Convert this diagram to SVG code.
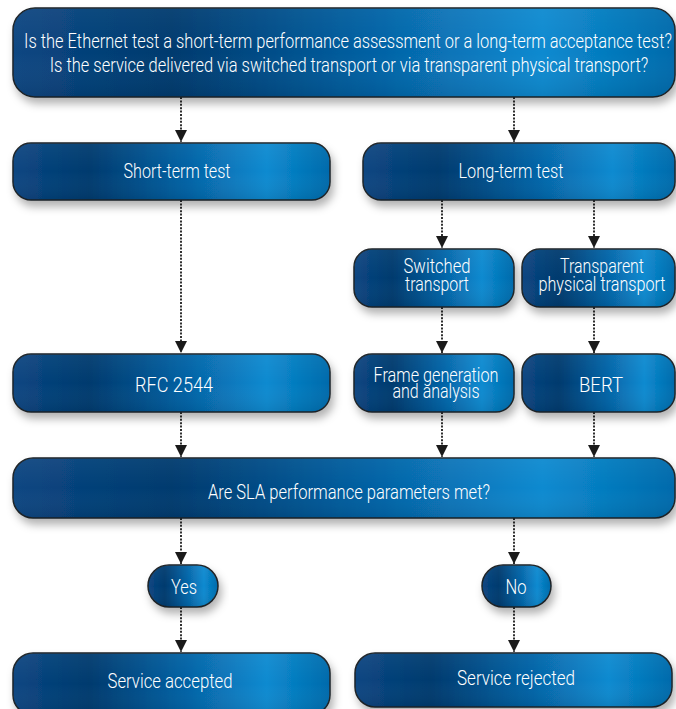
<svg xmlns="http://www.w3.org/2000/svg" width="676" height="709" viewBox="0 0 676 709">
<defs>
<linearGradient id="g" x1="0" y1="0" x2="1" y2="0">
<stop offset="0" stop-color="#0a4682"/>
<stop offset="0.24" stop-color="#003a6e"/>
<stop offset="0.55" stop-color="#0562a5"/>
<stop offset="0.8" stop-color="#0a8ad0"/>
<stop offset="1" stop-color="#006aab"/>
</linearGradient>
<linearGradient id="sh" x1="0" y1="0" x2="0" y2="1">
<stop offset="0" stop-color="#ffffff" stop-opacity="0.05"/>
<stop offset="0.5" stop-color="#ffffff" stop-opacity="0"/>
<stop offset="1" stop-color="#000000" stop-opacity="0.08"/>
</linearGradient>
<filter id="ds" x="-10%" y="-20%" width="125%" height="160%">
<feDropShadow dx="3" dy="6" stdDeviation="4" flood-color="#000" flood-opacity="0.3"/>
</filter>
<marker id="ah" viewBox="0 0 12 12" refX="12" refY="6" markerWidth="12" markerHeight="13" markerUnits="userSpaceOnUse" orient="auto">
<path d="M0,0 L12,6 L0,12 z" fill="#1a1a1a"/>
</marker>
</defs>
<style>
.box{fill:url(#g);stroke:#1e2428;stroke-width:1.5;filter:url(#ds)}
.hl{fill:url(#sh);stroke:none}
.t{font-family:Roboto,"Liberation Sans",Arial,sans-serif;font-weight:300;font-size:19.5px;fill:#ffffff;text-anchor:middle}
.c{fill:none;stroke:#1a1a1a;stroke-width:1.8;stroke-dasharray:2 1.4;marker-end:url(#ah)}
</style>
<rect width="676" height="709" fill="#ffffff"/>
<g id="connectors">
<line class="c" x1="181" y1="97" x2="181" y2="142"/>
<line class="c" x1="514" y1="97" x2="514" y2="142"/>
<line class="c" x1="442" y1="200" x2="442" y2="248"/>
<line class="c" x1="594" y1="200" x2="594" y2="248"/>
<line class="c" x1="181" y1="200" x2="181" y2="353"/>
<line class="c" x1="442" y1="307" x2="442" y2="353"/>
<line class="c" x1="594" y1="307" x2="594" y2="353"/>
<line class="c" x1="181" y1="412" x2="181" y2="457"/>
<line class="c" x1="442" y1="412" x2="442" y2="457"/>
<line class="c" x1="594" y1="412" x2="594" y2="457"/>
<line class="c" x1="181" y1="518" x2="181" y2="564"/>
<line class="c" x1="514" y1="518" x2="514" y2="564"/>
<line class="c" x1="181" y1="607" x2="181" y2="652"/>
<line class="c" x1="514" y1="607" x2="514" y2="652"/>
</g>
<g id="question">
<rect class="box" x="13" y="8" width="662" height="89" rx="22"/>
<rect class="hl" x="13" y="8" width="662" height="89" rx="22"/>
<text class="t" transform="translate(348,48) scale(0.82,1)" textLength="790" lengthAdjust="spacingAndGlyphs">Is the Ethernet test a short-term performance assessment or a long-term acceptance test?</text>
<text class="t" transform="translate(349,72) scale(0.82,1)" textLength="730" lengthAdjust="spacingAndGlyphs">Is the service delivered via switched transport or via transparent physical transport?</text>
</g>
<g id="short-term">
<rect class="box" x="13" y="143" width="317" height="57" rx="18"/>
<rect class="hl" x="13" y="143" width="317" height="57" rx="18"/>
<text class="t" transform="translate(177,178) scale(0.82,1)" textLength="130.5" lengthAdjust="spacingAndGlyphs">Short-term test</text>
</g>
<g id="long-term">
<rect class="box" x="363" y="143" width="312" height="57" rx="18"/>
<rect class="hl" x="363" y="143" width="312" height="57" rx="18"/>
<text class="t" transform="translate(511,178) scale(0.82,1)" textLength="128" lengthAdjust="spacingAndGlyphs">Long-term test</text>
</g>
<g id="switched">
<rect class="box" x="354" y="249" width="160" height="58" rx="18"/>
<rect class="hl" x="354" y="249" width="160" height="58" rx="18"/>
<text class="t" transform="translate(437,273) scale(0.82,1)" textLength="81.7" lengthAdjust="spacingAndGlyphs">Switched</text>
<text class="t" transform="translate(437,291) scale(0.82,1)" textLength="78" lengthAdjust="spacingAndGlyphs">transport</text>
</g>
<g id="transparent">
<rect class="box" x="522" y="249" width="153" height="58" rx="18"/>
<rect class="hl" x="522" y="249" width="153" height="58" rx="18"/>
<text class="t" transform="translate(602,273) scale(0.82,1)" textLength="102.4" lengthAdjust="spacingAndGlyphs">Transparent</text>
<text class="t" transform="translate(602,291) scale(0.82,1)" textLength="154.9" lengthAdjust="spacingAndGlyphs">physical transport</text>
</g>
<g id="rfc2544">
<rect class="box" x="13" y="354" width="317" height="58" rx="18"/>
<rect class="hl" x="13" y="354" width="317" height="58" rx="18"/>
<text class="t" transform="translate(174,392) scale(0.82,1)" textLength="95.1" lengthAdjust="spacingAndGlyphs">RFC 2544</text>
</g>
<g id="frame">
<rect class="box" x="354" y="354" width="160" height="58" rx="18"/>
<rect class="hl" x="354" y="354" width="160" height="58" rx="18"/>
<text class="t" transform="translate(436,382) scale(0.82,1)" textLength="152.4" lengthAdjust="spacingAndGlyphs">Frame generation</text>
<text class="t" transform="translate(436,398) scale(0.82,1)" textLength="106.1" lengthAdjust="spacingAndGlyphs">and analysis</text>
</g>
<g id="bert">
<rect class="box" x="522" y="354" width="153" height="58" rx="18"/>
<rect class="hl" x="522" y="354" width="153" height="58" rx="18"/>
<text class="t" transform="translate(601,392) scale(0.82,1)" textLength="53.7" lengthAdjust="spacingAndGlyphs">BERT</text>
</g>
<g id="sla">
<rect class="box" x="13" y="458" width="662" height="60" rx="20"/>
<rect class="hl" x="13" y="458" width="662" height="60" rx="20"/>
<text class="t" transform="translate(349,499) scale(0.82,1)" textLength="343.9" lengthAdjust="spacingAndGlyphs">Are SLA performance parameters met?</text>
</g>
<g id="yes">
<rect class="box" x="148" y="565" width="70" height="42" rx="21"/>
<rect class="hl" x="148" y="565" width="70" height="42" rx="21"/>
<text class="t" transform="translate(184,594) scale(0.82,1)" textLength="31.7" lengthAdjust="spacingAndGlyphs">Yes</text>
</g>
<g id="no">
<rect class="box" x="482" y="565" width="69" height="42" rx="21"/>
<rect class="hl" x="482" y="565" width="69" height="42" rx="21"/>
<text class="t" transform="translate(516,594) scale(0.82,1)" textLength="25.6" lengthAdjust="spacingAndGlyphs">No</text>
</g>
<g id="accepted">
<rect class="box" x="13" y="653" width="317" height="62" rx="20"/>
<rect class="hl" x="13" y="653" width="317" height="62" rx="20"/>
<text class="t" transform="translate(170,688) scale(0.82,1)" textLength="152.4" lengthAdjust="spacingAndGlyphs">Service accepted</text>
</g>
<g id="rejected">
<rect class="box" x="355" y="653" width="317" height="54" rx="20"/>
<rect class="hl" x="355" y="653" width="317" height="54" rx="20"/>
<text class="t" transform="translate(516,685) scale(0.82,1)" textLength="143.9" lengthAdjust="spacingAndGlyphs">Service rejected</text>
</g>
</svg>
